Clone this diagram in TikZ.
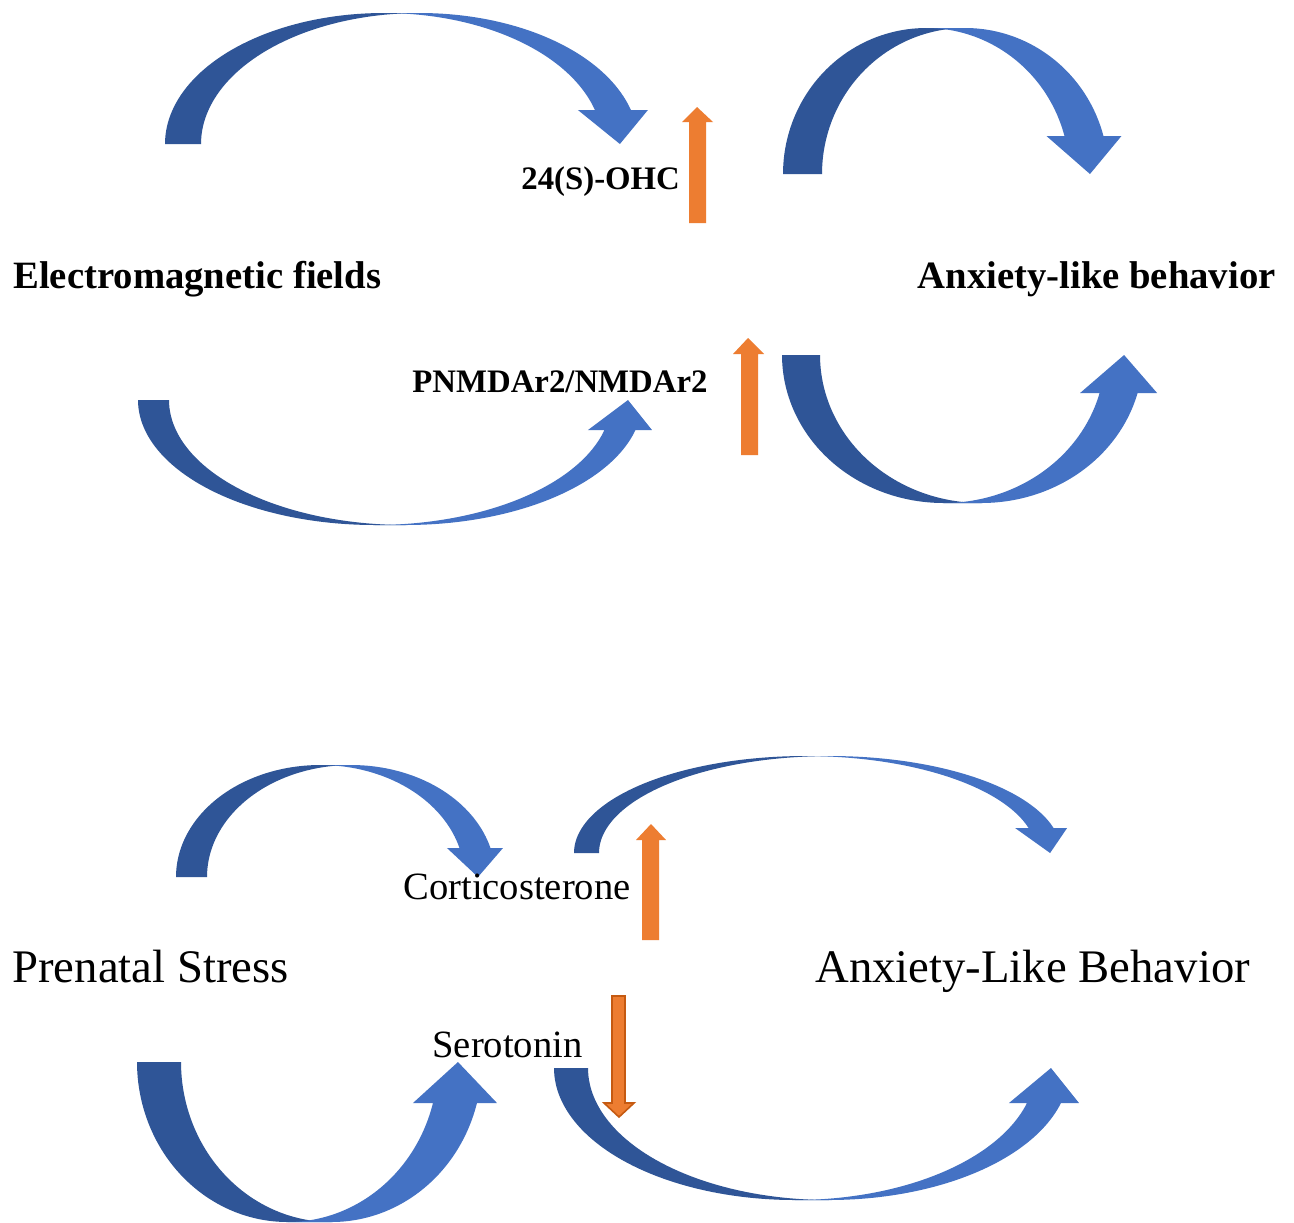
\documentclass[tikz,border=0pt]{standalone}
\usepackage{fontspec}
\setmainfont{Liberation Serif}
\definecolor{cdark}{HTML}{2F5597}
\definecolor{clight}{HTML}{4472C4}
\definecolor{corange}{HTML}{ED7D31}
\definecolor{cordark}{HTML}{C55A11}
% curved block arrow: #1 sign (1 arch over, -1 arch under), #2 cx, #3 cy, #4 a, #5 b,
% #6 shaft width, #7 y of head base, #8 half head width, #9 tip offset
\newcommand{\cblockarrow}[9]{%
  \pgfmathsetmacro{\cbaTh}{asin(abs(#3-#7)/#5)}%
  \pgfmathsetmacro{\cbaSc}{#2+#6/2+#4*cos(\cbaTh)}%
  \fill[cdark] plot[domain=180:90,samples=50] ({#2+#4*cos(\x)},{#3-(#1)*#5*sin(\x)})
     -- plot[domain=90:180,samples=50] ({#2+#6+#4*cos(\x)},{#3-(#1)*#5*sin(\x)}) -- cycle;
  \fill[clight] plot[domain=90:\cbaTh,samples=50] ({#2+#6+#4*cos(\x)},{#3-(#1)*#5*sin(\x)})
     -- ({\cbaSc+#8},#7) -- ({\cbaSc+#9},#3) -- ({\cbaSc-#8},#7)
     -- plot[domain=\cbaTh:90,samples=50] ({#2+#4*cos(\x)},{#3-(#1)*#5*sin(\x)}) -- cycle;
}
\begin{document}
\begin{tikzpicture}[x=0.5pt,y=-0.5pt,
  lbl/.style={inner sep=0pt, anchor=base west},
  sidebold/.style={lbl, font=\fontsize{19.35}{22}\selectfont\bfseries},
  midbold/.style={lbl, font=\fontsize{16.4}{19}\selectfont\bfseries},
  midreg/.style={lbl, font=\fontsize{19.3}{22}\selectfont},
  bigreg/.style={lbl, font=\fontsize{23.35}{27}\selectfont},
  orangefill/.style={fill=corange}]
\useasboundingbox[fill=white] (0,0) rectangle (1294,1222);

% ---- top panel ----
\cblockarrow{1}{383.7}{144}{218.7}{131}{36}{110}{35}{7}
\cblockarrow{1}{926.2}{174}{143.2}{146}{39}{136}{37.5}{6}
\cblockarrow{-1}{374.7}{400}{236.7}{125}{31}{430}{32}{8}
\cblockarrow{-1}{943.5}{355}{161.5}{148}{38}{393}{38.5}{5.5}

\fill[orangefill] (689,223) -- (689,122) -- (682,122) -- (697,107) -- (713,122) -- (706,122) -- (706,223) -- cycle;
\fill[orangefill] (741,455) -- (741,354) -- (733,354) -- (748,338) -- (764,354) -- (758,354) -- (758,455) -- cycle;

\node[sidebold] (emf) at (13,288) {Electromagnetic fields};
\node[sidebold, anchor=base east] (alb) at (1276,288) {Anxiety-like behavior};
\node[midbold] (ohc) at (521,189) {24(S)-OHC};
\node[midbold] (nmda) at (412,392) {PNMDAr2/NMDAr2};

% ---- bottom panel ----
\cblockarrow{1}{320.2}{877}{144.2}{112}{31}{848}{28}{3}
\cblockarrow{1}{805.2}{853}{231.2}{97}{25}{828}{26}{9}
\cblockarrow{-1}{287.5}{1062}{150.5}{160}{44}{1103}{42}{3}
\cblockarrow{-1}{794.8}{1068}{240.8}{132}{34}{1103}{35}{7}

\fill[orangefill] (642,940) -- (642,840) -- (636,840) -- (651,824) -- (666,840) -- (659,840) -- (659,940) -- cycle;
\filldraw[orangefill, draw=cordark, line width=0.8pt] (612,996) -- (612,1103) -- (604,1103) -- (619,1117) -- (634,1103) -- (625,1103) -- (625,996) -- cycle;

\node[bigreg] (ps) at (12,982) {Prenatal Stress};
\node[bigreg] (alb2) at (815,982) {Anxiety-Like Behavior};
\node[midreg] (cort) at (403,899) {Corticosterone};
\node[midreg] (sero) at (432,1057) {Serotonin};
\end{tikzpicture}
\end{document}
